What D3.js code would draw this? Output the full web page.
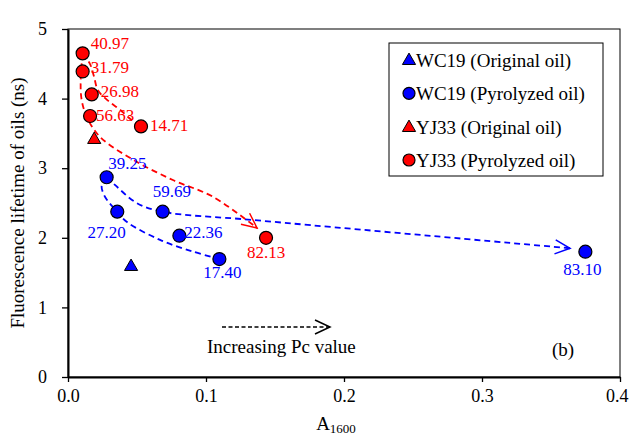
<!DOCTYPE html>
<html>
<head>
<meta charset="utf-8">
<script src="https://cdn.jsdelivr.net/npm/d3@7"></script>
<style>
  body { margin: 0; background: #fff; }
  text { font-family: "Liberation Serif", "Times New Roman", serif; }
</style>
</head>
<body>
<script>
// WC19 pyrolyzed oils: A1600, lifetime (ns), Pc label
var wcPyroA   = [0.028, 0.0357, 0.0686, 0.0807, 0.1097, 0.3749];
var wcPyroTau = [2.87, 2.375, 2.375, 2.03, 1.695, 1.80];
var wcPyroPc  = ["39.25", "27.20", "59.69", "22.36", "17.40", "83.10"];
// WC19 original oil
var wcOrigA   = [0.0457];
var wcOrigTau = [1.585];
// YJ33 pyrolyzed oils
var yjPyroA   = [0.0106, 0.0106, 0.0172, 0.016, 0.0529, 0.1435];
var yjPyroTau = [4.65, 4.39, 4.06, 3.75, 3.60, 2.00];
var yjPyroPc  = ["40.97", "31.79", "26.98", "56.63", "14.71", "82.13"];
// YJ33 original oil
var yjOrigA   = [0.019];
var yjOrigTau = [3.41];

// hand drawn trend guides
var yjTrendLong  = [[0.0106, 4.65], [0.0092, 4.27], [0.0099, 3.98], [0.014, 3.72], [0.0232, 3.45],
                    [0.0473, 3.12], [0.076, 2.83], [0.105, 2.59], [0.137, 2.14]];
var yjTrendShort = [[0.0106, 4.65], [0.0159, 4.50], [0.0188, 4.32], [0.0217, 4.12], [0.029, 3.97],
                    [0.0377, 3.84], [0.0462, 3.69], [0.0529, 3.60]];
var wcTrendLong  = [[0.028, 2.87], [0.034, 2.76], [0.0498, 2.50], [0.0686, 2.375], [0.134, 2.256], [0.3638, 1.85]];
var wcTrendShort = [[0.028, 2.87], [0.0244, 2.75], [0.0268, 2.59], [0.0357, 2.375], [0.0425, 2.23],
                    [0.0667, 1.97], [0.0908, 1.80], [0.1097, 1.695]];

var xTicks = [0, 0.1, 0.2, 0.3, 0.4];
var yTicks = [0, 1, 2, 3, 4, 5];
var legendNames = ["WC19 (Original oil)", "WC19 (Pyrolyzed oil)", "YJ33 (Original oil)", "YJ33 (Pyrolyzed oil)"];

// label nudges in px [dx, dy, anchor]
var wcNudge = [[1.5, -8, "start"], [-10.6, 26.6, "middle"], [-10, -15, "start"], [5, 2, "start"], [3, 19, "middle"], [-3, 23, "middle"]];
var yjNudge = [[8, -4, "start"], [8, 2, "start"], [9, 2.5, "start"], [6, 5, "start"], [9, 5, "start"], [0, 20, "middle"]];

var RED = "#ff0000", BLUE = "#0000ff";

var svg = d3.select("body").append("svg")
    .attr("width", 629)
    .attr("height", 438);

var x = d3.scaleLinear().domain([0, 0.4]).range([68, 620]);
var y = d3.scaleLinear().domain([0, 5]).range([377, 29]);

// frame (top/right)
svg.append("rect")
    .attr("x", x(0)).attr("y", y(5))
    .attr("width", x(0.4) - x(0)).attr("height", y(0) - y(5))
    .attr("fill", "none").attr("stroke", "#000").attr("stroke-width", 1);

// axes
var xAxis = svg.append("g")
    .attr("transform", "translate(0," + y(0) + ")")
    .call(d3.axisBottom(x).tickValues(xTicks).tickFormat(d3.format(".1f")).tickSize(5).tickSizeOuter(0));
var yAxis = svg.append("g")
    .attr("transform", "translate(" + x(0) + ",0)")
    .call(d3.axisLeft(y).tickValues(yTicks).tickFormat(d3.format("d")).tickSize(6).tickSizeOuter(0));

[xAxis, yAxis].forEach(function(a) {
  a.select(".domain").attr("stroke", "#000").attr("stroke-width", 2);
  a.selectAll(".tick line").attr("stroke", "#000").attr("stroke-width", 1.3);
  a.selectAll(".tick text").attr("fill", "#000").style("font-size", "18px")
    .style("font-family", "'Liberation Serif', 'Times New Roman', serif");
});
xAxis.selectAll(".tick text").attr("y", 12).attr("dy", "0.71em");
// last x label sits against the right edge, as in the picture
xAxis.selectAll(".tick text").filter(function(d) { return d === 0.4; })
    .attr("text-anchor", "end").attr("x", 8);
yAxis.selectAll(".tick text").attr("x", -21);

// axis titles
var xt = svg.append("text")
    .attr("x", 336).attr("y", 430)
    .attr("text-anchor", "middle")
    .style("font-size", "19px");
xt.append("tspan").text("A");
xt.append("tspan").attr("dy", 3).style("font-size", "13px").text("1600");

svg.append("text")
    .attr("transform", "translate(24," + (y(2.5)) + ") rotate(-90)")
    .attr("text-anchor", "middle")
    .style("font-size", "19px")
    .text("Fluorescence lifetime of oils (ns)");

// arrow markers
var defs = svg.append("defs");
[["arrRed", RED], ["arrBlue", BLUE], ["arrBlack", "#000"]].forEach(function(m) {
  defs.append("marker")
      .attr("id", m[0])
      .attr("markerUnits", "userSpaceOnUse")
      .attr("viewBox", "-16 -8 18 16")
      .attr("refX", 0).attr("refY", 0)
      .attr("markerWidth", 18).attr("markerHeight", 16)
      .attr("orient", "auto")
    .append("path")
      .attr("d", "M-15,-7L0,0L-15,7")
      .attr("fill", "none")
      .attr("stroke", m[1])
      .attr("stroke-width", 1.5);
});

// trend lines
var line = d3.line()
    .x(function(d) { return x(d[0]); })
    .y(function(d) { return y(d[1]); })
    .curve(d3.curveCatmullRom.alpha(0.5));

function trend(pts, color, arrow) {
  var p = svg.append("path")
      .datum(pts)
      .attr("d", line)
      .attr("fill", "none")
      .attr("stroke", color)
      .attr("stroke-width", 1.8)
      .attr("stroke-dasharray", "6,4");
  if (arrow) p.attr("marker-end", "url(#" + arrow + ")");
}
trend(wcTrendShort, BLUE);
trend(wcTrendLong, BLUE, "arrBlue");
trend(yjTrendShort, RED);
trend(yjTrendLong, RED, "arrRed");

// Increasing Pc annotation
svg.append("line")
    .attr("x1", 222).attr("y1", 327)
    .attr("x2", 330).attr("y2", 327)
    .attr("stroke", "#000").attr("stroke-width", 1.5)
    .attr("stroke-dasharray", "4,2.5")
    .attr("marker-end", "url(#arrBlack)");
svg.append("text")
    .attr("x", 207).attr("y", 353)
    .style("font-size", "19px")
    .text("Increasing Pc value");
svg.append("text")
    .attr("x", 552).attr("y", 356)
    .style("font-size", "19px")
    .text("(b)");

// markers
var tri = d3.symbol().type(d3.symbolTriangle).size(75);

function circles(as, ts, color) {
  svg.append("g").selectAll("circle")
      .data(as)
      .enter().append("circle")
      .attr("cx", function(d) { return x(d); })
      .attr("cy", function(d, i) { return y(ts[i]); })
      .attr("r", 6.5)
      .attr("fill", color)
      .attr("stroke", "#000")
      .attr("stroke-width", 1.2);
}
function triangles(as, ts, color) {
  svg.append("g").selectAll("path")
      .data(as)
      .enter().append("path")
      .attr("d", tri)
      .attr("transform", function(d, i) { return "translate(" + x(d) + "," + y(ts[i]) + ")"; })
      .attr("fill", color)
      .attr("stroke", "#000")
      .attr("stroke-width", 1);
}
function labels(as, ts, pcs, nudge, color) {
  svg.append("g").selectAll("text")
      .data(pcs)
      .enter().append("text")
      .attr("x", function(d, i) { return x(as[i]) + nudge[i][0]; })
      .attr("y", function(d, i) { return y(ts[i]) + nudge[i][1]; })
      .attr("text-anchor", function(d, i) { return nudge[i][2]; })
      .attr("fill", color)
      .style("font-size", "17px")
      .text(function(d) { return d; });
}

triangles(wcOrigA, wcOrigTau, BLUE);
triangles(yjOrigA, yjOrigTau, RED);
circles(wcPyroA, wcPyroTau, BLUE);
circles(yjPyroA, yjPyroTau, RED);
labels(wcPyroA, wcPyroTau, wcPyroPc, wcNudge, BLUE);
labels(yjPyroA, yjPyroTau, yjPyroPc, yjNudge, RED);

// legend
svg.append("rect")
    .attr("x", 389).attr("y", 43)
    .attr("width", 214).attr("height", 133)
    .attr("fill", "#fff").attr("stroke", "#000").attr("stroke-width", 1);

var legendColors = [BLUE, BLUE, RED, RED];
var legendRowY = [60.7, 93.3, 127.7, 160];
var leg = svg.selectAll(".legend")
    .data(legendNames)
    .enter().append("g")
    .attr("class", "legend")
    .attr("transform", function(d, i) { return "translate(409," + legendRowY[i] + ")"; });

leg.each(function(d, i) {
  var g = d3.select(this);
  if (i % 2 === 0) {
    g.append("path").attr("d", tri).attr("fill", legendColors[i]).attr("stroke", "#000").attr("stroke-width", 1);
  } else {
    g.append("circle").attr("r", 6).attr("fill", legendColors[i]).attr("stroke", "#000").attr("stroke-width", 1.2);
  }
});
leg.append("text")
    .attr("x", 7)
    .attr("y", 6.5)
    .style("font-size", "19px")
    .text(function(d) { return d; });
</script>
</body>
</html>
